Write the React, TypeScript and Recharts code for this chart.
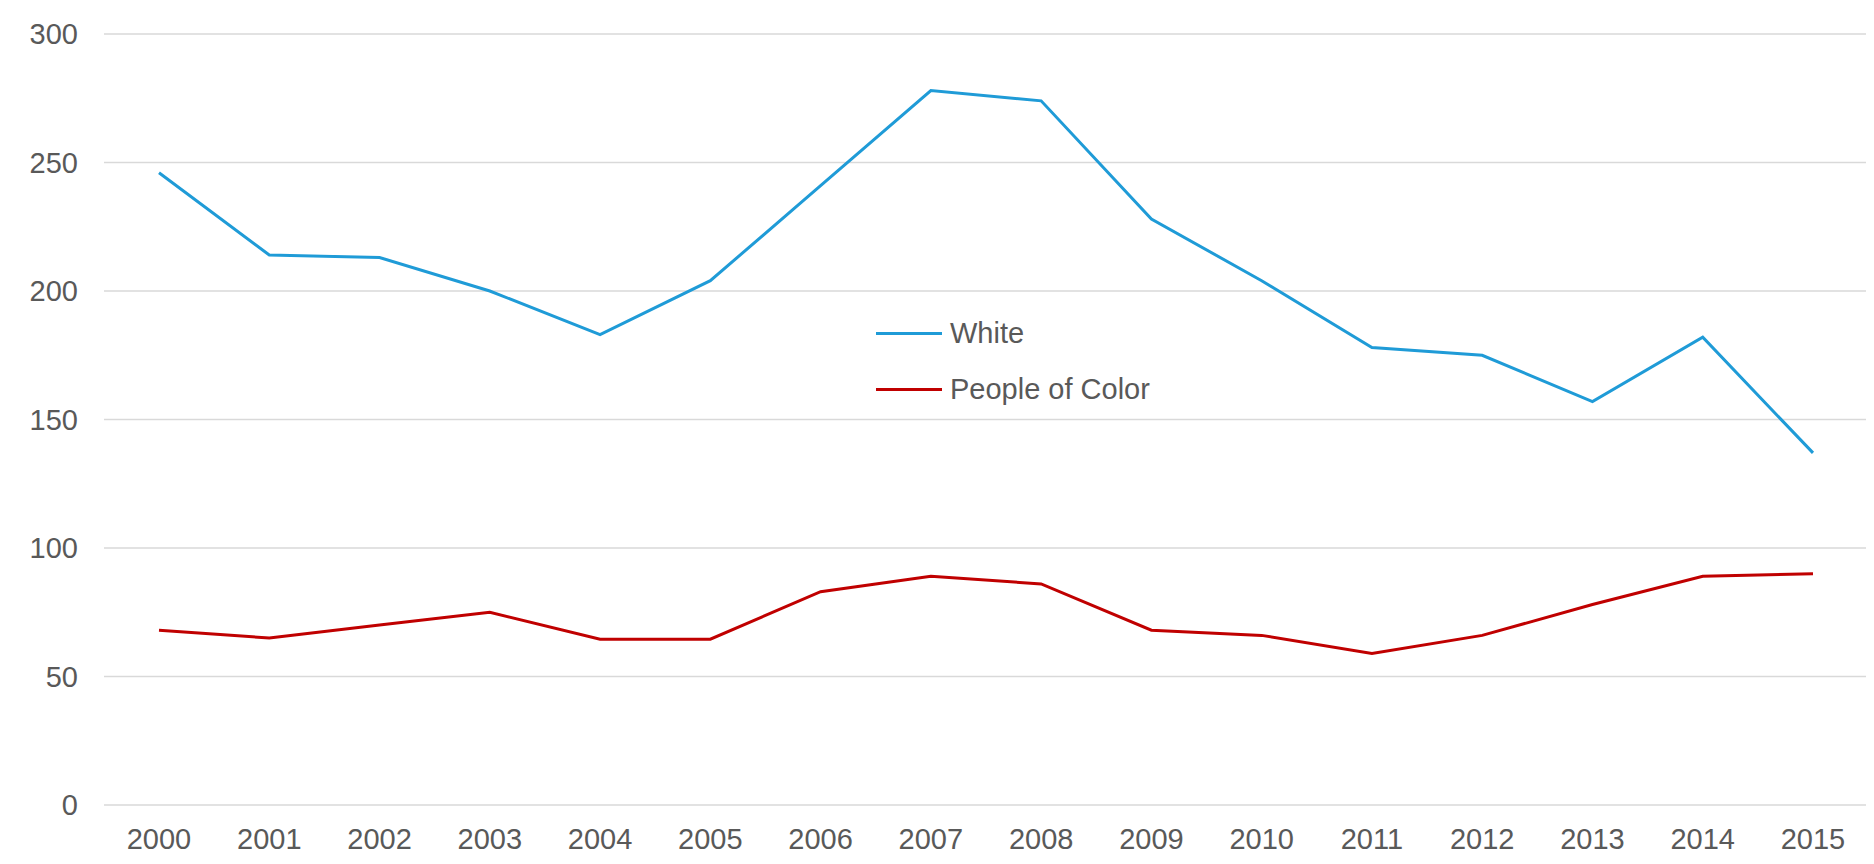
import {
  LineChart,
  Line,
  XAxis,
  YAxis,
  CartesianGrid,
  Legend,
} from "recharts";

const years = [
  "2000", "2001", "2002", "2003", "2004", "2005", "2006", "2007",
  "2008", "2009", "2010", "2011", "2012", "2013", "2014", "2015",
];

const white = [246, 214, 213, 200, 183, 204, 241, 278, 274, 228, 204, 178, 175, 157, 182, 137];

const peopleOfColor = [68, 65, 70, 75, 64.5, 64.5, 83, 89, 86, 68, 66, 59, 66, 78, 89, 90];

const yTicks = [0, 50, 100, 150, 200, 250, 300];

const legendOrder = ["White", "People of Color"];

const chartData = years.map((year, i) => ({
  year,
  white: white[i],
  poc: peopleOfColor[i],
}));

const FONT = "'Liberation Sans', Arial, sans-serif";
const TEXT = "#595959";

function LegendBox(props: any) {
  const items = [...(props.payload || [])].sort(
    (a: any, b: any) => legendOrder.indexOf(a.value) - legendOrder.indexOf(b.value)
  );
  return (
    <div style={{ fontFamily: FONT, fontSize: 29, color: TEXT }}>
      {items.map((p: any) => (
        <div
          key={p.value}
          style={{ display: "flex", alignItems: "center", height: 56 }}
        >
          <span
            style={{
              display: "inline-block",
              width: 66,
              height: 3,
              background: p.color,
              marginRight: 8,
            }}
          />
          <span>{p.value}</span>
        </div>
      ))}
    </div>
  );
}

export default function App() {
  return (
    <div style={{ width: 1866, height: 848 }}>
      <LineChart
        width={1866}
        height={848}
        data={chartData}
        margin={{ top: 26, right: 6, bottom: 11, left: 0 }}
      >
        <CartesianGrid
          vertical={false}
          stroke="#d9d9d9"
          strokeWidth={1.5}
        />
        <XAxis
          dataKey="year"
          axisLine={false}
          tickLine={false}
          height={40}
          tickSize={6}
          tickMargin={17}
          interval={0}
          padding={{ left: 55, right: 55 }}
          tick={{ fill: TEXT, fontSize: 29, fontFamily: FONT }}
        />
        <YAxis
          domain={[0, 300]}
          ticks={yTicks}
          width={96}
          axisLine={false}
          tickLine={false}
          tickSize={6}
          tickMargin={20}
          tick={{ fill: TEXT, fontSize: 29, fontFamily: FONT }}
        />
        <Legend
          layout="vertical"
          align="center"
          verticalAlign="middle"
          content={<LegendBox />}
          wrapperStyle={{ left: 868, top: 297, width: 320 }}
        />
        <Line
          type="linear"
          dataKey="white"
          name="White"
          stroke="#1f9bd7"
          strokeWidth={3}
          dot={false}
          isAnimationActive={false}
        />
        <Line
          type="linear"
          dataKey="poc"
          name="People of Color"
          stroke="#c00000"
          strokeWidth={3}
          dot={false}
          isAnimationActive={false}
        />
      </LineChart>
    </div>
  );
}
